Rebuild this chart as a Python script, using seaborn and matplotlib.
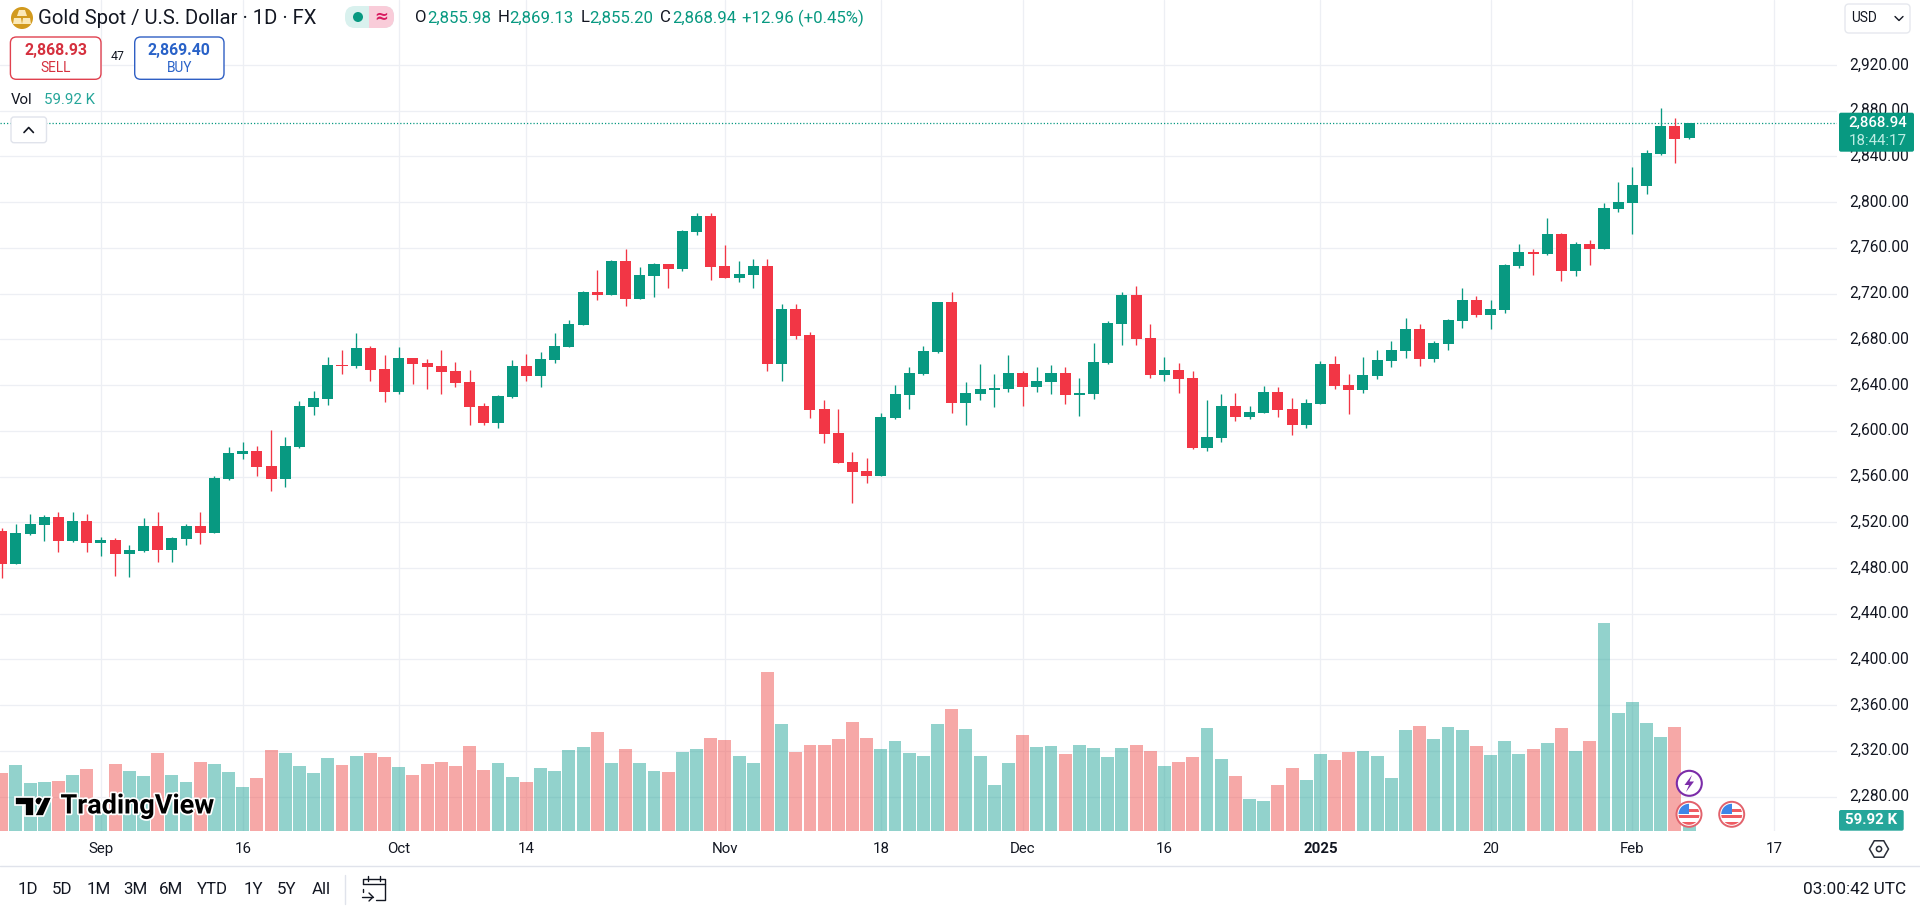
import numpy as np
import pandas as pd
import matplotlib
matplotlib.use("Agg")
import matplotlib.pyplot as plt
import matplotlib.patheffects as pe
from matplotlib.patches import Circle, FancyBboxPatch, Polygon, Rectangle, RegularPolygon
from matplotlib.transforms import ScaledTranslation
import seaborn as sns

opens = [2512.4,2483.5,2509.8,2517.6,2524.6,2503.6,2521.1,2501.9,2504.5,2492.3,
         2494.9,2516.8,2495.8,2505.4,2516.8,2510.6,2557.9,2579.8,2582.4,2569.3,
         2557.9,2585.9,2620.8,2627.8,2657.5,2656.7,2672.4,2654.0,2633.9,2663.7,
         2659.3,2656.7,2652.3,2642.7,2621.7,2607.1,2629.6,2656.7,2647.9,2661.9,
         2673.3,2692.6,2721.4,2718.8,2748.5,2715.3,2735.4,2745.9,2741.5,2773.9,
         2787.9,2744.2,2733.7,2736.3,2744.2,2658.4,2706.5,2683.8,2619.0,2598.0,
         2572.7,2564.8,2560.5,2611.2,2631.3,2649.7,2668.9,2712.7,2624.3,2632.2,
         2635.7,2636.6,2650.5,2638.3,2642.7,2650.5,2631.3,2632.2,2659.3,2693.4,
         2718.8,2681.2,2648.8,2653.2,2646.2,2584.9,2593.7,2621.7,2612.1,2615.6,
         2633.9,2619.0,2605.1,2623.4,2658.4,2640.0,2635.7,2647.9,2661.0,2669.8,
         2689.0,2662.8,2676.0,2696.1,2714.5,2701.3,2705.7,2744.1,2756.4,2754.6,
         2772.1,2739.8,2763.4,2759.0,2794.0,2799.3,2814.1,2842.1,2866.6,2855.98]
closes = [2483.5,2510.6,2518.5,2524.6,2503.6,2521.1,2501.9,2504.5,2492.3,2495.8,
          2516.8,2495.8,2506.3,2516.8,2510.6,2558.8,2580.6,2582.4,2568.4,2557.9,
          2586.8,2621.7,2628.7,2657.5,2656.7,2672.4,2653.2,2633.9,2663.7,2658.4,
          2655.8,2651.4,2641.8,2620.8,2606.8,2630.4,2656.7,2647.9,2662.8,2674.2,
          2693.4,2721.4,2718.8,2748.5,2715.3,2736.3,2745.9,2741.5,2774.8,2787.9,
          2743.3,2733.7,2737.2,2744.2,2658.4,2706.5,2682.9,2618.2,2597.2,2571.8,
          2564.0,2560.5,2612.1,2632.2,2650.6,2669.8,2712.7,2624.3,2633.1,2636.6,
          2637.4,2650.5,2638.3,2643.5,2650.5,2631.3,2633.1,2660.2,2694.3,2718.8,
          2680.3,2648.8,2653.2,2645.3,2584.9,2594.6,2621.7,2612.1,2616.4,2633.9,
          2618.2,2605.1,2624.3,2658.4,2639.2,2635.7,2648.8,2661.9,2670.7,2689.0,
          2662.8,2676.8,2697.0,2714.5,2701.3,2706.6,2745.0,2756.4,2754.6,2772.1,
          2739.8,2763.4,2759.0,2794.9,2800.1,2815.0,2843.0,2866.6,2855.2,2868.94]
highs = [2514.7,2518.5,2527.3,2526.4,2529.0,2529.0,2527.3,2507.2,2506.3,2499.9,
         2523.8,2529.0,2507.2,2518.5,2529.0,2560.5,2585.6,2590.3,2586.8,2600.8,
         2594.6,2626.0,2634.8,2664.5,2670.7,2685.5,2674.2,2666.3,2673.3,2663.7,
         2662.8,2670.7,2660.2,2653.2,2624.3,2631.3,2661.9,2667.2,2668.9,2685.6,
         2696.9,2722.3,2740.7,2749.4,2759.0,2743.3,2746.8,2745.9,2775.7,2790.5,
         2790.5,2762.5,2748.5,2750.3,2750.3,2710.9,2710.9,2686.4,2626.9,2619.0,
         2581.5,2576.2,2615.6,2640.0,2655.8,2674.2,2712.7,2721.4,2642.7,2658.4,
         2649.7,2666.3,2652.3,2655.8,2657.5,2655.8,2646.2,2676.8,2696.0,2721.4,
         2726.7,2693.4,2664.5,2659.3,2652.3,2626.9,2632.2,2633.1,2621.7,2639.2,
         2638.3,2628.7,2627.8,2661.0,2665.4,2649.7,2664.5,2670.7,2678.5,2698.7,
         2693.4,2678.5,2697.8,2725.0,2718.0,2714.5,2745.9,2763.4,2759.0,2786.1,
         2773.0,2765.1,2766.9,2799.3,2817.6,2830.7,2845.6,2882.4,2873.6,2869.13]
lows = [2471.3,2483.5,2509.2,2503.6,2494.0,2502.8,2494.0,2490.5,2473.0,2472.2,
        2494.0,2485.3,2485.3,2500.1,2501.0,2510.6,2557.0,2575.4,2560.5,2547.4,
        2550.9,2585.0,2613.8,2622.6,2649.7,2654.9,2643.5,2625.2,2632.2,2640.9,
        2636.5,2632.2,2638.3,2605.0,2605.0,2602.4,2628.7,2643.6,2638.3,2659.3,
        2673.3,2692.6,2714.4,2718.8,2709.2,2715.3,2717.0,2724.9,2739.8,2771.3,
        2731.9,2733.7,2730.2,2724.9,2652.3,2643.6,2680.3,2611.2,2589.3,2571.8,
        2536.8,2554.3,2560.5,2610.3,2619.0,2648.8,2668.0,2615.6,2605.1,2626.9,
        2620.8,2633.9,2621.7,2633.9,2632.2,2623.4,2612.9,2627.8,2658.4,2675.0,
        2675.0,2646.2,2643.5,2633.1,2584.0,2582.3,2590.2,2608.6,2610.3,2615.6,
        2612.1,2596.3,2602.4,2623.4,2636.6,2614.7,2633.1,2645.3,2655.8,2663.7,
        2656.7,2660.2,2670.7,2690.0,2699.6,2689.1,2703.0,2742.4,2736.3,2753.8,
        2731.0,2735.4,2745.0,2759.0,2791.4,2772.1,2807.1,2841.2,2834.2,2855.20]
volumes_k = [577,657,477,487,497,557,617,260,667,597,
             547,777,557,487,687,667,587,437,527,807,
             777,647,577,727,657,747,777,737,637,557,
             667,687,647,847,607,677,537,487,627,597,
             807,837,987,677,817,677,597,587,787,817,
             927,907,747,677,1587,1067,787,857,857,917,
             1087,927,817,897,777,747,1067,1217,1017,747,
             457,677,957,837,847,767,857,827,737,827,
             857,797,647,687,737,1027,717,547,317,297,
             457,627,507,767,707,787,797,747,527,1007,
             1047,917,1037,1007,847,757,897,767,817,877,
             1027,797,897,2077,1177,1287,1077,937,1037,59.92]

x_tick_positions = [7, 17, 28, 37, 51, 62, 72, 82, 93, 105, 115, 125]
x_tick_labels = ["Sep", "16", "Oct", "14", "Nov", "18", "Dec", "16", "2025", "20", "Feb", "17"]
price_ticks = [2280, 2320, 2360, 2400, 2440, 2480, 2520, 2560, 2600, 2640, 2680,
               2720, 2760, 2800, 2840, 2880, 2920]
range_buttons = ["1D", "5D", "1M", "3M", "6M", "YTD", "1Y", "5Y", "All"]

UP, DOWN = "#089981", "#F23645"
INK = "#131722"
GRID = "#EDEFF4"

sns.set_theme(style="white")
plt.rcParams["font.family"] = ["Roboto", "DejaVu Sans"]

W, H = 1920, 915
PANE_R, PANE_B = 1837.0, 830.7
fig = plt.figure(figsize=(W / 100, H / 100), dpi=100, facecolor="white")
ax = fig.add_axes([0, 1 - PANE_B / H, PANE_R / W, PANE_B / H])

df = pd.DataFrame({"i": np.arange(len(opens)), "o": opens, "h": highs, "l": lows,
                   "c": closes, "v": volumes_k})
df["dir"] = np.where(df.c >= df.o, "up", "down")
df["low_body"] = df[["o", "c"]].min(axis=1)
df["body"] = (df.o - df.c).abs().clip(lower=1.0)

# price candles
for name, col in (("up", UP), ("down", DOWN)):
    sub = df[df.dir == name]
    ax.vlines(sub.i, sub.l, sub.h, color=col, lw=0.95, zorder=3)
    sns.barplot(data=sub, x="i", y="body", native_scale=True, bottom=sub.low_body.values,
                color=col, saturation=1, width=0.78, errorbar=None, ax=ax,
                linewidth=0, zorder=4)

# volume pane, same axes box
axv = ax.twinx()
axv.set_zorder(ax.get_zorder() + 1)
axv.patch.set_visible(False)
sns.barplot(data=df, x="i", y="v", hue="dir", palette={"up": "#26A69A", "down": "#EF5350"},
            hue_order=["up", "down"], dodge=False, native_scale=True, saturation=1,
            alpha=0.5, width=0.91, errorbar=None, legend=False, ax=axv, linewidth=0)
axv.set_ylim(0, PANE_B * 10)
axv.set_xlabel("")
axv.set_ylabel("")
axv.set_yticks([])
axv.grid(False)
for s in axv.spines.values():
    s.set_visible(False)

ax.set_xlim(-0.12, 129.43)
ax.set_ylim(2250.2, 2976.8)
ax.set_xlabel("")
ax.set_ylabel("")
ax.set_xticks(x_tick_positions)
ax.set_xticklabels(x_tick_labels, fontsize=10.8, color=INK)
ax.get_xticklabels()[8].set_fontweight("bold")
ax.yaxis.tick_right()
ax.set_yticks(price_ticks)
ax.set_yticklabels([f"{p:,.2f}" for p in price_ticks], fontsize=11.2, color=INK)
ax.tick_params(axis="x", length=0, pad=8)
ax.tick_params(axis="y", length=0, pad=8.5, right=False, labelright=True, left=False, labelleft=False)
nudge = ScaledTranslation(0, 1.6 / 100, fig.dpi_scale_trans)
for lbl in ax.get_yticklabels():
    lbl.set_transform(lbl.get_transform() + nudge)
ax.grid(True, color=GRID, lw=0.9, zorder=0)
ax.set_axisbelow(True)
for s in ax.spines.values():
    s.set_visible(False)
ax.axhline(closes[-1], color=UP, ls=(0, (1, 1.6)), lw=0.9, zorder=2)

# interface overlay in pixel coordinates
ui = fig.add_axes([0, 0, 1, 1], zorder=10)
ui.set_xlim(0, W)
ui.set_ylim(H, 0)
ui.axis("off")
ui.patch.set_visible(False)


def T(x, y, s, size=10.8, color=INK, ha="left", weight="normal", **kw):
    return ui.text(x, y, s, fontsize=size, color=color, ha=ha, va="center", fontweight=weight, **kw)


def box(x0, y0, x1, y1, fc="white", ec="none", lw=1.0, r=4, z=2):
    p = FancyBboxPatch((x0 + r, y0 + r), x1 - x0 - 2 * r, y1 - y0 - 2 * r,
                       boxstyle=f"round,pad={r},rounding_size={r}", fc=fc, ec=ec, lw=lw, zorder=z)
    ui.add_patch(p)
    return p


# header
ui.add_patch(Circle((22, 18), 11, fc="#D29A1E", ec="none"))
ui.add_patch(Polygon([(19, 10), (25, 10), (27, 16), (17, 16)], fc="#FBE9B8", ec="none"))
ui.add_patch(Polygon([(14, 18), (21, 18), (22, 24), (13, 24)], fc="#FBE9B8", ec="none"))
ui.add_patch(Polygon([(23, 18), (30, 18), (31, 24), (22, 24)], fc="#FBE9B8", ec="none"))
T(38.5, 18, "Gold Spot / U.S. Dollar · 1D · FX", size=14.6)
box(345, 6, 394, 28, fc="#D9F1EE", r=10)
box(369, 6, 394, 28, fc="#F9CCD9", r=10, z=3)
ui.add_patch(Rectangle((369, 6), 12, 22, fc="#F9CCD9", ec="none", zorder=3))
ui.add_patch(Circle((358, 17), 5, fc=UP, ec="none", zorder=4))
T(381, 16.5, "≈", size=12, color="#D81B60", ha="center", zorder=4, weight="bold", family=["DejaVu Sans"])
for lx, lbl, vx, val in [(415, "O", 427, "2,855.98"), (498, "H", 509.5, "2,869.13"),
                         (580.5, "L", 589, "2,855.20"), (660, "C", 672, "2,868.94")]:
    T(lx, 18, lbl, size=12.1)
    T(vx, 18, val, size=12.1, color=UP)
T(742, 18, "+12.96 (+0.45%)", size=12.1, color=UP)

box(10.4, 37, 101, 79.3, ec="#E0414F", lw=1.0, r=6)
T(55.7, 50.7, "2,868.93", size=11.4, color="#D5303E", ha="center", weight="bold")
T(55.7, 68, "SELL", size=9.8, color="#D5303E", ha="center")
T(117.6, 57, "47", size=8.8, ha="center")
box(134.7, 37, 224, 79.3, ec="#2F5FC4", lw=1.0, r=6)
T(179.3, 50.7, "2,869.40", size=11.4, color="#2962C8", ha="center", weight="bold")
T(179.3, 68, "BUY", size=9.8, color="#2962C8", ha="center")
T(11, 100, "Vol", size=10.8)
T(43.5, 100, "59.92 K", size=10.8, color="#26A69A")
box(11, 117, 46.5, 142.7, ec="#E0E3EB", lw=1.0, r=3)
ui.plot([24, 28.7, 33.4], [132.5, 127.5, 132.5], color=INK, lw=1.2, zorder=5)

box(1845, 4, 1910, 33, ec="#E6E8EE", lw=1.0, r=4, z=3)
T(1851, 18.5, "USD", size=9.8, zorder=4)
ui.plot([1895, 1899, 1903], [16.5, 20.5, 16.5], color=INK, lw=1.0, zorder=4)

# last price and volume flags
box(1839, 112.7, 1914, 151.7, fc=UP, r=2, z=4)
T(1878, 123, "2,868.94", size=10.8, color="white", ha="center", zorder=5, weight="medium")
T(1878, 141, "18:44:17", size=10.8, color="#BDEDE4", ha="center", zorder=5)
box(1839, 810, 1903.7, 830.7, fc="#26A69A", r=2, z=4)
T(1871.3, 820.5, "59.92 K", size=10.8, color="white", ha="center", zorder=5, weight="bold")

# TradingView watermark
glyph = [Polygon([(15, 797), (34, 797), (34, 816), (24.5, 816), (24.5, 805), (15, 805)], fc="black", ec="white", lw=1.2),
         Circle((39, 801), 4.2, fc="black", ec="white", lw=1.2),
         Polygon([(44, 797), (52, 797), (43.5, 816), (34.5, 816)], fc="black", ec="white", lw=1.2)]
for g in glyph:
    g.set_zorder(5)
    ui.add_patch(g)
wm = T(60.5, 806, "TradingView", size=19.5, color="black", weight="bold", zorder=5)
wm.set_path_effects([pe.withStroke(linewidth=2.5, foreground="white")])


# event markers
def flag(cx, cy):
    ring = Circle((cx, cy), 12.5, fc="white", ec="#E2626C", lw=1.4, zorder=6)
    ui.add_patch(ring)
    clip = Circle((cx, cy), 10.5, transform=ui.transData)
    for yy in (cy + 0.5, cy + 7.5):
        r = Rectangle((cx - 11, yy), 22, 3.4, fc="#EF5B62", ec="none", zorder=7)
        ui.add_patch(r)
        r.set_clip_path(clip)
    c = Rectangle((cx - 11, cy - 11), 11, 11, fc="#3D86E8", ec="none", zorder=8)
    ui.add_patch(c)
    c.set_clip_path(clip)
    r = Rectangle((cx, cy - 5.5), 11, 3, fc="#EF5B62", ec="none", zorder=7)
    ui.add_patch(r)
    r.set_clip_path(clip)


flag(1689, 814.3)
flag(1731.7, 814.3)
ui.add_patch(Circle((1689.3, 783.3), 12.5, fc="white", ec="#7B2CA8", lw=1.5, zorder=6))
ui.add_patch(Polygon([(1692, 775), (1684.5, 785), (1689, 785), (1686, 792), (1694, 781.5), (1689.5, 781.5)],
                     fc="#7B2CA8", ec="none", zorder=7))

# bottom bar
ui.plot([0, W], [866, 866], color="#E0E3EB", lw=1.0)
for cx, lbl in zip([27.8, 62.4, 98.8, 135, 171.4, 212.7, 253, 286.5, 321.6], range_buttons):
    T(cx, 890, lbl, size=12.2, ha="center")
ui.plot([345, 345], [875, 904], color="#E0E3EB", lw=1.0)
ui.plot([363, 363, 385, 385, 376], [884, 879, 879, 900, 900], color=INK, lw=1.0)
ui.plot([363, 385], [884, 884], color=INK, lw=1.0)
ui.plot([363, 363], [889, 892], color=INK, lw=1.0)
ui.plot([368, 368], [876, 881], color=INK, lw=1.0)
ui.plot([380, 380], [876, 881], color=INK, lw=1.0)
ui.plot([362, 373], [897, 897], color=INK, lw=1.0)
ui.plot([369, 373, 369], [893, 897, 901], color=INK, lw=1.0)
T(1906.5, 890, "03:00:42 UTC", size=12.4, ha="right")
ui.add_patch(RegularPolygon((1879, 849), 6, radius=9.5, orientation=np.pi / 6, fc="white", ec="#2A2E39", lw=1.1))
ui.add_patch(Circle((1879, 849), 2.6, fc="white", ec="#2A2E39", lw=1.1))

fig.savefig("out.png", dpi=100, facecolor="white")
